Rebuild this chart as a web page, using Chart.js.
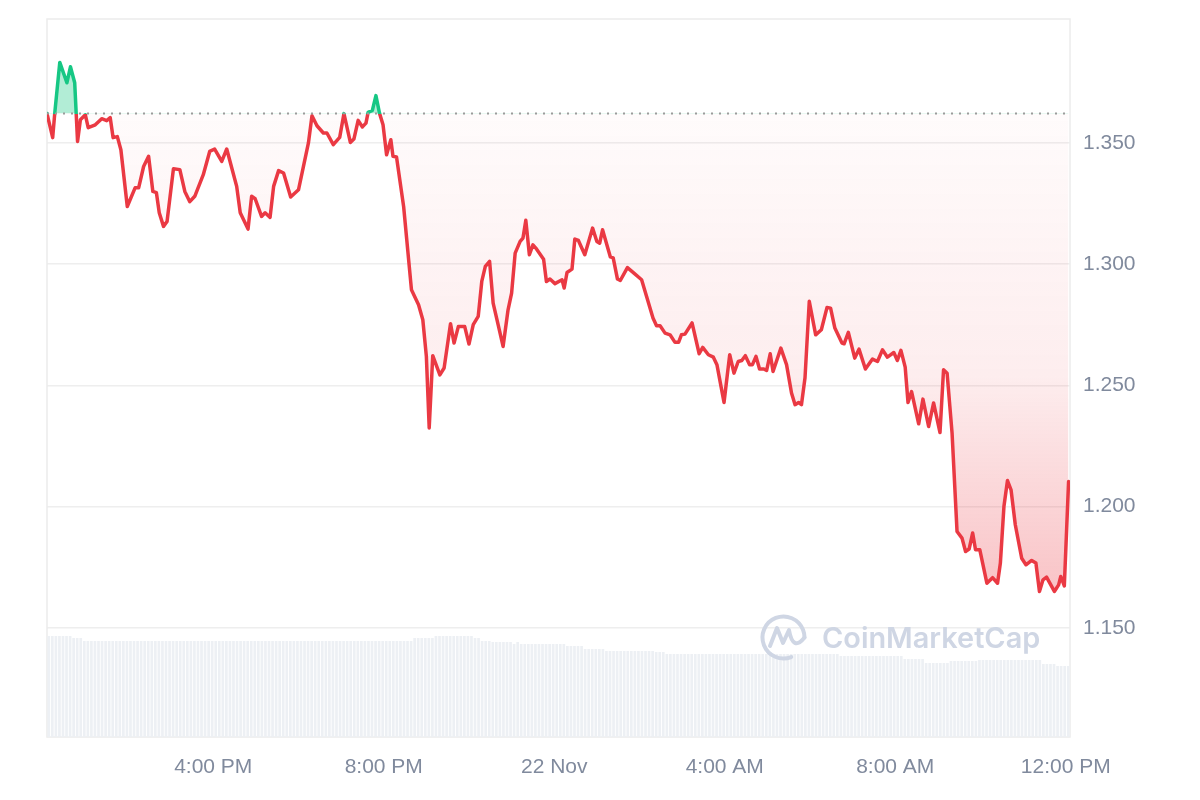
<!DOCTYPE html>
<html>
<head>
<meta charset="utf-8">
<title>Price chart</title>
<script src="https://cdn.jsdelivr.net/npm/chart.js@4.4.1/dist/chart.umd.min.js"></script>
<style>
  body { margin: 0; background: #fff; }
  #wrap { width: 1200px; height: 800px; position: relative; }
</style>
</head>
<body>
<div id="wrap"><canvas id="price-chart"></canvas></div>
<script>
// Price chart, 24h, minutes counted from 12:00 PM (21 Nov)

const priceMinutes = [6, 14, 17, 24, 34, 39, 45, 49, 53, 60, 64, 74, 83, 90, 95, 99, 105, 110, 119, 130,
    135, 142, 149, 155, 160, 164, 170, 175, 184, 193, 200, 207, 214, 226, 235, 242, 252, 259, 266, 273,
    278, 289, 294, 299, 308, 313, 320, 325, 332, 339, 349, 360, 367, 374, 379, 386, 395, 400, 409, 418,
    424, 433, 438, 444, 450, 455, 458, 464, 469, 474, 479, 484, 490, 493, 498, 508, 519, 529, 535, 540,
    544, 549, 559, 565, 574, 579, 585, 594, 600, 606, 613, 618, 623, 629, 634, 641, 648, 655, 660, 665,
    672, 676, 680, 685, 690, 695, 705, 709, 714, 721, 731, 734, 738, 745, 749, 754, 763, 774, 780, 784,
    788, 799, 803, 809, 813, 823, 833, 843, 850, 859, 864, 869, 876, 883, 890, 895, 899, 904, 914, 924,
    929, 937, 944, 949, 959, 967, 973, 979, 984, 989, 995, 999, 1004, 1009, 1015, 1019, 1024, 1028, 1039, 1047,
    1054, 1059, 1064, 1068, 1073, 1079, 1088, 1096, 1104, 1109, 1115, 1125, 1128, 1134, 1143, 1149, 1158, 1168, 1175, 1182,
    1189, 1198, 1203, 1208, 1214, 1218, 1223, 1233, 1239, 1247, 1254, 1263, 1268, 1273, 1280, 1287, 1294, 1299, 1304, 1309,
    1313, 1319, 1329, 1337, 1344, 1348, 1353, 1358, 1363, 1369, 1378, 1384, 1392, 1398, 1403, 1408, 1413, 1424, 1430, 1433,
    1438, 1444];

const prices = [1.3620, 1.3521, 1.3624, 1.3831, 1.3747, 1.3813, 1.3747, 1.3505, 1.3595, 1.3615, 1.3562, 1.3574, 1.3599, 1.3591, 1.3603, 1.3521, 1.3525, 1.3471, 1.3237, 1.3314,
    1.3314, 1.3402, 1.3444, 1.3299, 1.3294, 1.3211, 1.3155, 1.3175, 1.3393, 1.3389, 1.3299, 1.3257, 1.3279, 1.3368, 1.3464, 1.3474, 1.3423, 1.3474, 1.3397, 1.3320,
    1.3211, 1.3144, 1.3279, 1.3269, 1.3196, 1.3211, 1.3192, 1.3320, 1.3385, 1.3375, 1.3276, 1.3306, 1.3402, 1.3499, 1.3611, 1.3570, 1.3540, 1.3540, 1.3492, 1.3522,
    1.3620, 1.3501, 1.3515, 1.3592, 1.3565, 1.3581, 1.3625, 1.3633, 1.3694, 1.3622, 1.3574, 1.3450, 1.3512, 1.3444, 1.3441, 1.3237, 1.2894, 1.2832, 1.2770, 1.2619,
    1.2324, 1.2622, 1.2543, 1.2571, 1.2754, 1.2674, 1.2742, 1.2742, 1.2670, 1.2750, 1.2784, 1.2928, 1.2990, 1.3011, 1.2839, 1.2750, 1.2660, 1.2811, 1.2880, 1.3045,
    1.3093, 1.3107, 1.3180, 1.3038, 1.3079, 1.3062, 1.3020, 1.2928, 1.2938, 1.2919, 1.2935, 1.2901, 1.2965, 1.2979, 1.3103, 1.3097, 1.3038, 1.3148, 1.3093, 1.3086,
    1.3141, 1.3029, 1.3025, 1.2938, 1.2932, 1.2985, 1.2960, 1.2935, 1.2866, 1.2777, 1.2745, 1.2745, 1.2715, 1.2708, 1.2677, 1.2677, 1.2708, 1.2711, 1.2757, 1.2630,
    1.2656, 1.2626, 1.2616, 1.2585, 1.2429, 1.2626, 1.2550, 1.2598, 1.2602, 1.2622, 1.2585, 1.2585, 1.2619, 1.2567, 1.2567, 1.2561, 1.2630, 1.2557, 1.2653, 1.2585,
    1.2468, 1.2420, 1.2429, 1.2420, 1.2531, 1.2846, 1.2708, 1.2729, 1.2821, 1.2818, 1.2736, 1.2674, 1.2671, 1.2718, 1.2612, 1.2649, 1.2567, 1.2608, 1.2598, 1.2646,
    1.2616, 1.2635, 1.2602, 1.2644, 1.2575, 1.2429, 1.2474, 1.2341, 1.2443, 1.2330, 1.2427, 1.2305, 1.2564, 1.2550, 1.2303, 1.1897, 1.1870, 1.1815, 1.1825, 1.1891,
    1.1822, 1.1822, 1.1684, 1.1707, 1.1684, 1.1767, 1.2000, 1.2107, 1.2069, 1.1925, 1.1787, 1.1760, 1.1778, 1.1767, 1.1650, 1.1698, 1.1709, 1.1650, 1.1677, 1.1712,
    1.1673, 1.2103];

// 24h rolling volume (millions), one bar per 5 min bucket: [number of buckets, value]
const volumeRuns = [[7, 50.5], [3, 49.5], [93, 48], [6, 49.5], [11, 50.5], [2, 49.5], [3, 48], [6, 47.5],
    [1, 46.5], [1, 47.5], [13, 46.5], [5, 45.5], [6, 44], [14, 43], [3, 42.5], [49, 41.5], [18, 40.5],
    [6, 39], [7, 37], [8, 38], [18, 38.5], [4, 36.5], [4, 35.5]];

const xTickMinutes = [240, 480, 720, 960, 1200, 1440];
const xTickLabels = ["4:00 PM", "8:00 PM", "22 Nov", "4:00 AM", "8:00 AM", "12:00 PM"];
const yTickValues = [1.15, 1.2, 1.25, 1.3, 1.35];

const openPrice = prices[0];
const GREEN = "#16c784";
const RED = "#ea3943";

// expand the volume runs into one value per bucket
const volumes = [];
volumeRuns.forEach(run => {
    for (let i = 0; i < run[0]; i++) volumes.push(run[1]);
});
const volumeMinutes = volumes.map((v, i) => 8.5 + i * 5);

const priceData = priceMinutes.map((m, i) => ({ x: m, y: prices[i] }));
const volumeData = volumeMinutes.map((m, i) => ({ x: m, y: volumes[i] }));
const baseData = [{ x: 6, y: openPrice }, { x: 1446, y: openPrice }];

function baselinePixel(chart) {
    return chart.scales.y.getPixelForValue(openPrice);
}

function lineColor(context) {
    const chart = context.chart;
    const area = chart.chartArea;
    if (!area) return RED;
    const f = Math.min(Math.max((baselinePixel(chart) - area.top) / (area.bottom - area.top), 0), 1);
    const g = chart.ctx.createLinearGradient(0, area.top, 0, area.bottom);
    g.addColorStop(0, GREEN);
    g.addColorStop(f, GREEN);
    g.addColorStop(f, RED);
    g.addColorStop(1, RED);
    return g;
}

function belowFill(context) {
    const chart = context.chart;
    const area = chart.chartArea;
    if (!area) return "rgba(234,57,67,0.1)";
    const top = baselinePixel(chart);
    const bottom = chart.scales.y.getPixelForValue(1.165);
    const g = chart.ctx.createLinearGradient(0, top, 0, bottom);
    g.addColorStop(0, "rgba(234,57,67,0.02)");
    g.addColorStop(0.55, "rgba(234,57,67,0.09)");
    g.addColorStop(1, "rgba(234,57,67,0.30)");
    return g;
}

const framePlugin = {
    id: "frame",
    beforeDatasetsDraw(chart) {
        const { ctx, chartArea } = chart;
        ctx.save();
        ctx.strokeStyle = "#ececec";
        ctx.lineWidth = 1.5;
        ctx.strokeRect(chartArea.left, chartArea.top, chartArea.right - chartArea.left, chartArea.bottom - chartArea.top);
        ctx.restore();
    }
};

const watermarkPlugin = {
    id: "watermark",
    afterDatasetsDraw(chart) {
        const ctx = chart.ctx;
        const color = "#cfd6e4";
        ctx.save();
        ctx.strokeStyle = color;
        ctx.lineWidth = 4;
        ctx.lineCap = "round";
        ctx.lineJoin = "round";
        // circle of the logo, open at the lower right
        ctx.beginPath();
        ctx.arc(783.5, 637.5, 21, Math.PI * 0.38, Math.PI * 2);
        ctx.stroke();
        // the "m" wave inside
        ctx.beginPath();
        ctx.moveTo(770, 646);
        ctx.lineTo(777, 628);
        ctx.lineTo(783, 643);
        ctx.lineTo(789, 630);
        ctx.quadraticCurveTo(793, 652, 804.5, 637.5);
        ctx.stroke();
        // word mark
        const text = "CoinMarketCap";
        ctx.font = "600 24px Inter, 'Noto Sans', sans-serif";
        const size = 24 * 218 / ctx.measureText(text).width;
        ctx.font = "600 " + size.toFixed(1) + "px Inter, 'Noto Sans', sans-serif";
        ctx.fillStyle = color;
        ctx.textBaseline = "alphabetic";
        ctx.fillText(text, 822, 648);
        ctx.restore();
    }
};

const tickFont = { family: "'Liberation Sans', Arial, sans-serif", size: 21 };
const tickColor = "#808a9d";

const ctx = document.getElementById("price-chart").getContext("2d");
const priceChart = new Chart(ctx, {
    type: "line",
    data: {
        datasets: [
            {
                type: "line",
                label: "Price",
                data: priceData,
                yAxisID: "y",
                borderColor: lineColor,
                backgroundColor: belowFill,
                borderWidth: 3.5,
                borderJoinStyle: "round",
                borderCapStyle: "round",
                pointRadius: 0,
                tension: 0,
                fill: { target: { value: openPrice }, above: "rgba(22,199,132,0.33)" },
                order: 1
            },
            {
                type: "line",
                label: "Open",
                data: baseData,
                yAxisID: "y",
                borderColor: "#9b9b9b",
                borderWidth: 2,
                borderDash: [2, 6],
                pointRadius: 0,
                fill: false,
                order: 0
            },
            {
                type: "bar",
                label: "Volume",
                data: volumeData,
                yAxisID: "yVol",
                backgroundColor: "#edf0f4",
                barPercentage: 0.75,
                categoryPercentage: 1,
                order: 2
            }
        ]
    },
    options: {
        responsive: true,
        maintainAspectRatio: false,
        animation: false,
        layout: { padding: { left: 47, top: 19, right: 0, bottom: 0 } },
        plugins: {
            legend: { display: false },
            tooltip: { enabled: false }
        },
        scales: {
            x: {
                type: "linear",
                min: 6,
                max: 1446,
                offset: false,
                grid: { display: false, drawTicks: false },
                border: { display: false },
                afterBuildTicks: scale => {
                    scale.ticks = xTickMinutes.map(v => ({ value: v }));
                },
                afterFit: scale => {
                    scale.height = 63;
                    scale.paddingLeft = 0;
                    scale.paddingRight = 0;
                },
                ticks: {
                    autoSkip: false,
                    maxRotation: 0,
                    padding: 18,
                    color: tickColor,
                    font: tickFont,
                    callback: value => xTickLabels[xTickMinutes.indexOf(value)]
                }
            },
            y: {
                position: "right",
                min: 1.105,
                max: 1.401,
                grid: { color: "#eeeeee", lineWidth: 1.5, drawTicks: false },
                border: { display: false },
                afterBuildTicks: scale => {
                    scale.ticks = yTickValues.map(v => ({ value: v }));
                },
                afterFit: scale => {
                    scale.width = 130;
                    scale.paddingTop = 0;
                    scale.paddingBottom = 0;
                },
                ticks: {
                    padding: 13,
                    color: tickColor,
                    font: tickFont,
                    callback: value => value.toFixed(3)
                }
            },
            yVol: {
                display: false,
                position: "left",
                min: 0,
                max: 359
            }
        }
    },
    plugins: [framePlugin, watermarkPlugin]
});
</script>
</body>
</html>
